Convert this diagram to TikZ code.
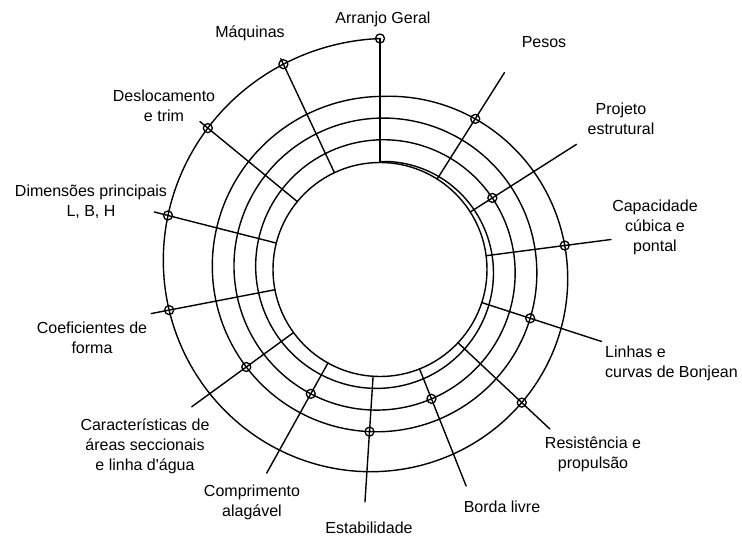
\documentclass[tikz,border=0pt]{standalone}
\usepackage{fontspec}
\setmainfont{Liberation Sans}[Ligatures=TeXOff]
\begin{document}
\begin{tikzpicture}[x=1pt,y=1pt,
  line/.style={line width=1.4pt,line cap=round,line join=round},
  marker/.style={circle,draw,line width=1.3pt,minimum size=9pt,inner sep=0pt,fill=none},
  lbl/.style={align=center,inner sep=0pt,font=\fontsize{16}{20}\selectfont}]
\useasboundingbox (-380,-266.5) rectangle (362,269.5);
% inner circle
\draw[line] (0,0) circle (107);
% spiral: three turns of slow growth, then one faster outer turn
\draw[line] plot[domain=0:1080,samples=361,smooth] ({90-\x}:{108+\x/360*21.7})
  -- plot[domain=1080:1440,samples=121,smooth] ({90-\x}:{173+(\x-1080)/360*58});
% spokes
\foreach \n/\a in {P/57.7,PE/32.5,C/7.4,L/-18,R/-43.2,B/-68.3,E/-93.7,CA/-119.1,CS/-143.9,CF/-169.1,D/165.7,DT/140.6,M/115.2}{
  \coordinate (i\n) at (\a:107);
  \coordinate (o\n) at (\a:233);
  \draw[line] (i\n) -- (o\n);
}
\coordinate (iA) at (90:108);
% markers
\node[marker] (mA) at (90:231) {};
\draw[line] (iA) -- (mA.center);
\node[marker] (mP)  at (57.7:178.2) {};
\node[marker] (mPE) at (32.5:133.2) {};
\node[marker] (mC)  at (7.4:186.3) {};
\node[marker] (mL)  at (-18:157.9) {};
\node[marker] (mR)  at (-43.2:194.5) {};
\node[marker] (mB)  at (-68.3:139.2) {};
\node[marker] (mE)  at (-93.7:162.5) {};
\node[marker] (mCA) at (-119.1:142.3) {};
\node[marker] (mCS) at (-143.9:165.5) {};
\node[marker] (mCF) at (-169.1:214.7) {};
\node[marker] (mD)  at (165.7:218.8) {};
\node[marker] (mDT) at (140.6:222.8) {};
\node[marker] (mM)  at (115.2:226.9) {};
% labels
\node[lbl] (tA)  at (3,250.5) {Arranjo Geral};
\node[lbl] (tM)  at (-130,236.5) {Máquinas};
\node[lbl] (tDT) at (-216,163.5) {Deslocamento\\e trim};
\node[lbl] (tD)  at (-289,67.5) {Dimensões principais\\L, B, H};
\node[lbl] (tCF) at (-288,-68) {Coeficientes de\\forma};
\node[lbl] (tCS) at (-235,-176.5) {Características de\\áreas seccionais\\e linha d'água};
\node[lbl] (tCA) at (-128,-233) {Comprimento\\alagável};
\node[lbl] (tE)  at (-11,-258.5) {Estabilidade};
\node[lbl] (tB)  at (122,-237.5) {Borda livre};
\node[lbl] (tR)  at (213,-185) {Resistência e\\propulsão};
\node[lbl,align=left,anchor=west] (tL) at (225,-93.5) {Linhas e\\curvas de Bonjean};
\node[lbl] (tC)  at (275,42.5) {Capacidade\\cúbica e\\pontal};
\node[lbl] (tPE) at (241,151) {Projeto\\estrutural};
\node[lbl] (tP)  at (164,227.5) {Pesos};
\end{tikzpicture}
\end{document}
